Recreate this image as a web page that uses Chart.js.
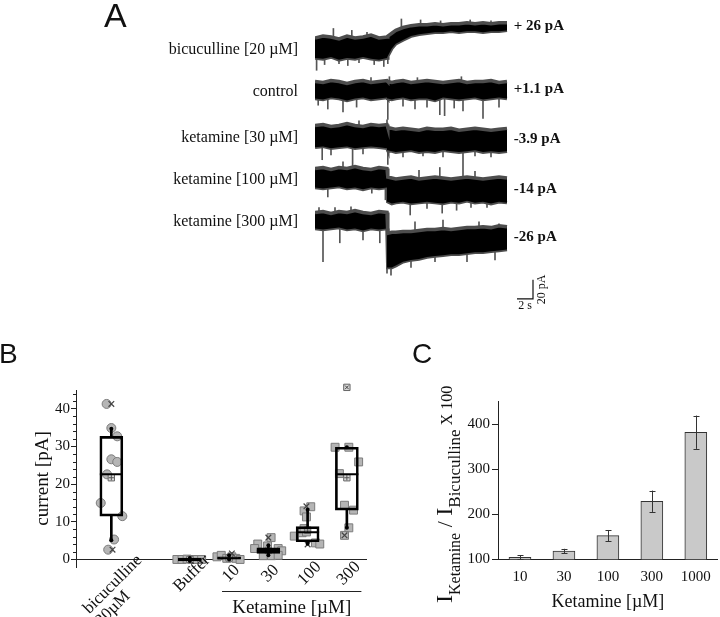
<!DOCTYPE html>
<html>
<head>
<meta charset="utf-8">
<script src="https://cdn.jsdelivr.net/npm/chart.js@4.4.1/dist/chart.umd.min.js"></script>
<style>
  html, body { margin:0; padding:0; background:#ffffff; }
  #wrap { position:relative; width:720px; height:617px; overflow:hidden; background:#fff; }
  canvas { position:absolute; }
</style>
</head>
<body>
<div id="wrap">
  <canvas id="cA" style="left:0;top:0;width:720px;height:330px" width="720" height="330"></canvas>
  <canvas id="cB" style="left:0;top:330px;width:380px;height:287px" width="380" height="287"></canvas>
  <canvas id="cC" style="left:380px;top:330px;width:340px;height:287px" width="340" height="287"></canvas>
</div>
<script>
// ================= DATA =================
// ---- Panel A: current traces (pA relative to each trace's starting level) ----
const TRACE_NAMES = ['bicuculline [20 µM]', 'control', 'ketamine [30 µM]', 'ketamine [100 µM]', 'ketamine [300 µM]'];
const TRACE_AMPLITUDES = ['+ 26 pA', '+1.1 pA', '-3.9 pA', '-14 pA', '-26 pA'];
const TRACE_TIME = [0,1,2,3,4,5,6,7,8,9,9.1,9.6,10.1,11,12,13,14,15,16,17,18,19,20,21,22,23,24]; // s

const BIC_UPPER  = [10,12,11,9,12,10,11,13,10,11,12,15,18,21,23,24,24,25,24,25,25,26,25,26,25,26,26];
const BIC_LOWER  = [-11,-12,-10,-13,-11,-12,-10,-12,-13,-11,-9,-1,4,8,12,14,15,16,16,17,16,17,17,16,17,17,18];
const CTRL_UPPER = [9,8,10,9,7,9,10,8,9,10,9,8,9,10,8,9,10,9,8,9,10,8,9,9,10,8,9];
const CTRL_LOWER = [-9,-10,-8,-9,-11,-9,-8,-10,-9,-8,-9,-10,-9,-8,-10,-9,-9,-11,-8,-9,-10,-9,-8,-10,-9,-8,-9];
const K30_UPPER  = [11,12,10,11,13,11,10,12,11,12,9,8,7,8,7,6,8,7,7,8,6,7,8,7,6,7,8];
const K30_LOWER  = [-12,-11,-13,-12,-11,-13,-12,-11,-12,-13,-15,-16,-17,-16,-15,-17,-16,-17,-15,-16,-17,-16,-15,-17,-16,-17,-16];
const K100_UPPER = [10,11,9,11,10,12,10,9,11,10,1,0,-1,0,1,-1,0,1,0,-1,0,1,0,-1,0,1,0];
const K100_LOWER = [-10,-11,-10,-9,-11,-10,-12,-10,-11,-10,-25,-27,-26,-25,-27,-26,-25,-26,-27,-25,-26,-24,-26,-25,-27,-25,-26];
const K300_UPPER = [8,9,7,9,8,10,8,7,9,8,-14,-13,-13,-12,-12,-11,-10,-10,-9,-10,-9,-8,-8,-7,-8,-6,-7];
const K300_LOWER = [-9,-10,-9,-8,-10,-9,-11,-9,-10,-9,-50,-50,-48,-44,-42,-41,-39,-38,-37,-36,-36,-35,-34,-34,-33,-32,-31];
const TRACE_LATE_LEVEL = [21, 0, -4, -13, -19]; // pA, level at the end of each trace

// single noise spikes: [time s, from pA, to pA]
const BIC_SPIKES  = [[0.2,-5,-24],[1.2,-5,-18],[2.3,5,20],[3.0,-5,-17],[4.1,-5,-19],[4.6,5,18],[5.5,-5,-16],[6.5,5,16],[7.4,-5,-18],[8.6,-5,-20],[9.1,-5,-17],[10.8,20,30],[13.2,20,29],[15.7,20,28],[19.4,20,29],[22,20,28]];
const CTRL_SPIKES = [[0.4,-3,-16],[1.6,-3,-20],[3.5,-3,-23],[5.2,-3,-18],[7.0,3,13],[9.1,-3,-31],[11,-3,-17],[12.5,-3,-20],[14,-3,-18],[15.6,-3,-26],[16.2,-3,-27],[17.4,-3,-19],[18.5,-3,-22],[21,-3,-30],[23,-3,-18],[9.3,3,14],[12.8,3,13],[18.3,3,14]];
const K30_SPIKES  = [[0.9,-5,-25],[2.0,-5,-20],[4.7,-5,-36],[6.0,-5,-19],[9.1,-5,-30],[11,-8,-22],[13.5,-8,-21],[16,-8,-22],[18.5,-8,-42],[20,-8,-21],[22,-8,-22],[5.5,5,16],[9.0,5,17]];
const K100_SPIKES = [[1.6,-5,-20],[3.5,5,17],[7.1,-5,-16],[8.8,-5,-23],[9.1,-5,-24],[11.9,-15,-39],[14,-15,-32],[15.9,-15,-37],[17.7,-15,-34],[19.5,-15,-31],[21.5,-15,-31],[13,-5,8],[15.6,-5,11],[20,-5,7]];
const K300_SPIKES = [[1.0,-5,-44],[3.1,-5,-24],[6.0,-5,-21],[8.1,-5,-24],[9.0,-5,-56],[0.5,5,13],[2.5,5,13],[4.5,5,14],[9.5,-30,-58],[12,-30,-50],[15,-25,-44],[19,-25,-44],[22.5,-20,-42],[12.5,-20,-2],[16,-20,0],[20.5,-15,-2],[23,-15,-4]];

const SCALEBAR_SECONDS = 2;
const SCALEBAR_PA = 20;

// ---- Panel B: box plots of current [pA] ----
const B_LABELS = [['bicuculline', '20µM'], 'Buffer', '10', '30', '100', '300'];
const B_GROUP_POS = [0, 2, 3, 4, 5, 6];
const B_Q1     = [11.5, -0.4, 0.0, 1.6, 4.7, 13.1];
const B_MEDIAN = [22.6,  0.0, 0.3, 2.3, 7.2, 22.6];
const B_Q3     = [32.7,  0.4, 0.7, 3.1, 8.7, 29.8];
const B_WHISK_LO = [5.1, -0.4, 0.0, 1.1, 4.2, 8.4];
const B_WHISK_HI = [34.7, 0.4, 1.1, 3.8, 13.2, 29.8];
const B_MEAN   = [21.7, 0.0, 0.4, 2.4, 7.8, 21.7];
// individual cells: [jitter, value]
const B_PTS_BIC = [[-0.12,41.3],[0,34.9],[0.15,32.7],[0,26.6],[0.15,25.9],[-0.11,22.6],[-0.27,15.0],[0.28,11.5],[0.07,5.3],[-0.08,2.6]];
const B_PTS_BUF = [[-0.33,0],[-0.2,0],[-0.07,0.1],[0.06,0],[0.18,0],[0.3,0]];
const B_PTS_10  = [[-0.31,0.7],[-0.2,1.1],[-0.06,0.3],[0.07,0.7],[0.17,0.3],[0.28,0.0]];
const B_PTS_30  = [[-0.27,4.1],[-0.35,2.9],[-0.02,3.6],[0.25,2.9],[0.34,2.3],[0.17,1.6],[-0.13,1.0],[0.08,1.0],[0.25,1.1],[0.07,5.8]];
const B_PTS_100 = [[-0.09,12.9],[0.08,14.0],[-0.03,11.3],[-0.34,6.2],[-0.14,7.1],[-0.03,7.3],[-0.09,8.2],[0.2,4.4],[0.31,4.1]];
const B_PTS_300 = [[-0.3,29.8],[0.05,29.8],[0.3,25.9],[-0.19,22.8],[-0.06,14.4],[0.17,13.1],[0.05,8.4],[-0.06,6.4]];
// 1% / 99% markers: [group, jitter, value]
const B_XMARKS = [[0,0,41.3],[0,0.03,2.6],[2,0.07,1.6],[3,0,5.8],[4,-0.03,14.1],[4,0,4.0],[5,-0.06,6.4]];
const B_MAXMARK = [[5,0,45.7]];
const B_Y_TICKS = [0, 10, 20, 30, 40];

// ---- Panel C: normalised current ----
const C_LABELS = ['10', '30', '100', '300', '1000'];
const C_MEAN = [104.4, 118.5, 152.6, 228.9, 382.2];
const C_ERR  = [4.8, 4.8, 12.5, 23.7, 37.0];
const C_Y_TICKS = [100, 200, 300, 400];

// ================= STYLE / LAYOUT =================
const SERIF = '"Liberation Serif", "Times New Roman", serif';
const SANS = '"Liberation Sans", Arial, sans-serif';
const INK = '#111111';
const A_OFFSETS = [-50, -94.8, -143.2, -187.4, -231.7]; // vertical stacking of traces (pA units)
const A_SCALEBAR_T0 = 25.25, A_SCALEBAR_Y0 = -314.7;
const B_KET_RANGE = [2.82, 6.37];

Chart.defaults.font.family = SERIF;
Chart.defaults.color = INK;

// ================= PANEL A =================
const TRACES = [
  {up: BIC_UPPER, lo: BIC_LOWER, sp: BIC_SPIKES},
  {up: CTRL_UPPER, lo: CTRL_LOWER, sp: CTRL_SPIKES},
  {up: K30_UPPER, lo: K30_LOWER, sp: K30_SPIKES},
  {up: K100_UPPER, lo: K100_LOWER, sp: K100_SPIKES},
  {up: K300_UPPER, lo: K300_LOWER, sp: K300_SPIKES}
];
const aDatasets = [];
const spikeData = [];
TRACES.forEach((tr, i) => {
  const off = A_OFFSETS[i];
  aDatasets.push({type: 'line', data: TRACE_TIME.map((t, j) => ({x: t, y: off + tr.up[j]})),
    borderColor: '#4d4d4d', backgroundColor: '#000', borderWidth: 3.5, pointRadius: 0, tension: 0, fill: '+1'});
  aDatasets.push({type: 'line', data: TRACE_TIME.map((t, j) => ({x: t, y: off + tr.lo[j]})),
    borderColor: '#4d4d4d', borderWidth: 3.5, pointRadius: 0, tension: 0, fill: false});
  tr.sp.forEach(([t, a, b]) => spikeData.push({x: t, y: [off + a, off + b]}));
});
aDatasets.push({type: 'bar', data: spikeData, backgroundColor: '#555555', borderWidth: 0, barThickness: 1, grouped: false});

const panelAText = {
  id: 'panelAText',
  afterDraw(chart) {
    const {ctx} = chart; const xs = chart.scales.x, ys = chart.scales.y;
    ctx.save();
    ctx.fillStyle = INK;
    ctx.font = `34px ${SANS}`; ctx.textAlign = 'left'; ctx.textBaseline = 'alphabetic';
    ctx.fillText('A', 104, 27);
    ctx.font = `16px ${SERIF}`; ctx.textAlign = 'right'; ctx.textBaseline = 'middle';
    TRACE_NAMES.forEach((n, i) => ctx.fillText(n, xs.getPixelForValue(0) - 17, ys.getPixelForValue(A_OFFSETS[i]) + 2));
    ctx.font = `bold 15px ${SERIF}`; ctx.textAlign = 'left';
    TRACE_AMPLITUDES.forEach((n, i) => ctx.fillText(n, xs.getPixelForValue(24.85), ys.getPixelForValue(A_OFFSETS[i] + TRACE_LATE_LEVEL[i]) - 1));
    const sx0 = xs.getPixelForValue(A_SCALEBAR_T0), sx1 = xs.getPixelForValue(A_SCALEBAR_T0 + SCALEBAR_SECONDS);
    const sy0 = ys.getPixelForValue(A_SCALEBAR_Y0), sy1 = ys.getPixelForValue(A_SCALEBAR_Y0 + SCALEBAR_PA);
    ctx.strokeStyle = INK; ctx.lineWidth = 1.2;
    ctx.beginPath(); ctx.moveTo(sx0, sy0); ctx.lineTo(sx1, sy0); ctx.lineTo(sx1, sy1); ctx.stroke();
    ctx.font = `12px ${SERIF}`; ctx.textAlign = 'center'; ctx.textBaseline = 'top';
    ctx.fillText(SCALEBAR_SECONDS + ' s', (sx0 + sx1) / 2, sy0 + 1);
    ctx.save(); ctx.translate(sx1 + 3, (sy0 + sy1) / 2); ctx.rotate(-Math.PI / 2);
    ctx.textAlign = 'center'; ctx.textBaseline = 'top'; ctx.fillText(SCALEBAR_PA + ' pA', 0, 0); ctx.restore();
    ctx.restore();
  }
};

new Chart(document.getElementById('cA'), {
  type: 'line',
  data: {datasets: aDatasets},
  options: {
    responsive: false, animation: false, events: [], devicePixelRatio: 1,
    layout: {padding: {left: 315, right: 180, top: 0, bottom: 10}},
    plugins: {legend: {display: false}, tooltip: {enabled: false}},
    scales: {
      x: {type: 'linear', display: false, min: 0, max: 28.125, offset: false},
      y: {type: 'linear', display: false, min: -337, max: 0}
    }
  },
  plugins: [panelAText]
});

// ================= PANEL B =================
const bx = (g, dx) => B_GROUP_POS[g] + dx;
const pts = (list, g) => list.map(([dx, v]) => ({x: bx(g, dx), y: v}));
const circlePts = pts(B_PTS_BIC, 0);
const squarePts = [].concat(pts(B_PTS_BUF, 1), pts(B_PTS_10, 2), pts(B_PTS_30, 3), pts(B_PTS_100, 4), pts(B_PTS_300, 5));
const PT_FILL = '#b5b5b5', PT_EDGE = '#7c7c7c';

const bDatasets = [
  {type: 'scatter', data: B_GROUP_POS.map((p, i) => ({x: p, y: B_MEDIAN[i]})), pointStyle: 'line', pointRadius: 11.5, borderColor: '#000', borderWidth: 2},
  {type: 'bar', data: B_GROUP_POS.map((p, i) => ({x: p, y: [B_Q1[i], B_Q3[i]]})), backgroundColor: 'rgba(0,0,0,0)', borderColor: '#000', borderWidth: 2, borderSkipped: false, barThickness: 23, grouped: false},
  {type: 'bar', data: B_GROUP_POS.flatMap((p, i) => [{x: p, y: [B_Q3[i], B_WHISK_HI[i]]}, {x: p, y: [B_WHISK_LO[i], B_Q1[i]]}]), backgroundColor: '#000', borderWidth: 0, barThickness: 2, grouped: false},
  {type: 'scatter', data: B_GROUP_POS.flatMap((p, i) => [{x: p, y: B_WHISK_LO[i]}, {x: p, y: B_WHISK_HI[i]}]), pointRadius: 2, backgroundColor: '#000', borderColor: '#000', borderWidth: 0},
  {type: 'scatter', data: B_XMARKS.map(([g, dx, v]) => ({x: bx(g, dx), y: v})), pointStyle: 'crossRot', pointRadius: 4, borderColor: '#444', borderWidth: 1.2},
  {type: 'scatter', data: B_GROUP_POS.map((p, i) => ({x: p, y: B_MEAN[i]})), pointStyle: 'cross', pointRadius: 2.6, borderColor: '#555', borderWidth: 1},
  {type: 'scatter', data: B_MAXMARK.map(([g, dx, v]) => ({x: bx(g, dx), y: v})), pointStyle: 'crossRot', pointRadius: 2.6, borderColor: '#444', borderWidth: 1, clip: false},
  {type: 'scatter', data: B_GROUP_POS.map((p, i) => ({x: p, y: B_MEAN[i]})).concat(B_MAXMARK.map(([g, dx, v]) => ({x: bx(g, dx), y: v}))), pointStyle: 'rect', pointRadius: 4.5, backgroundColor: '#d8d8d8', borderColor: '#666', borderWidth: 1, clip: false},
  {type: 'scatter', data: circlePts, pointStyle: 'circle', pointRadius: 4.5, backgroundColor: PT_FILL, borderColor: PT_EDGE, borderWidth: 1},
  {type: 'scatter', data: squarePts, pointStyle: 'rect', pointRadius: 5.6, backgroundColor: PT_FILL, borderColor: PT_EDGE, borderWidth: 1}
];

const panelBText = {
  id: 'panelBText',
  afterDraw(chart) {
    const {ctx} = chart; const xs = chart.scales.x, ys = chart.scales.y;
    const y0 = ys.getPixelForValue(0);
    const axX = chart.chartArea.left;
    ctx.save();
    // minor ticks
    ctx.strokeStyle = '#222'; ctx.lineWidth = 1;
    for (let v = 2; v <= 44; v += 2) {
      if (v % 10 === 0) continue;
      const py = Math.round(ys.getPixelForValue(v)) + 0.5;
      ctx.beginPath(); ctx.moveTo(axX - 3, py); ctx.lineTo(axX, py); ctx.stroke();
    }
    ctx.fillStyle = INK;
    ctx.font = `28px ${SANS}`; ctx.textAlign = 'left'; ctx.textBaseline = 'alphabetic';
    ctx.fillText('B', -1, 33);
    ctx.textAlign = 'center'; ctx.textBaseline = 'middle';
    B_LABELS.forEach((lab, i) => {
      const px = xs.getPixelForValue(B_GROUP_POS[i]);
      ctx.save();
      ctx.font = `17px ${SERIF}`;
      if (Array.isArray(lab)) {
        ctx.translate(px + 1.5, y0 + 25); ctx.rotate(-Math.PI / 4);
        ctx.fillText(lab[0], 0, 0);
        ctx.fillText(lab[1], -17, 17);
      } else {
        ctx.translate(px + 2, y0 + 14); ctx.rotate(-Math.PI / 4);
        ctx.fillText(lab, 0, 0);
      }
      ctx.restore();
    });
    const k0 = xs.getPixelForValue(B_KET_RANGE[0]), k1 = xs.getPixelForValue(B_KET_RANGE[1]);
    ctx.strokeStyle = '#222'; ctx.lineWidth = 1;
    ctx.beginPath(); ctx.moveTo(k0, Math.round(y0 + 32) + 0.5); ctx.lineTo(k1, Math.round(y0 + 32) + 0.5); ctx.stroke();
    ctx.font = `19px ${SERIF}`; ctx.textAlign = 'center'; ctx.textBaseline = 'middle';
    ctx.fillText('Ketamine [µM]', (k0 + k1) / 2, y0 + 49);
    ctx.restore();
  }
};

new Chart(document.getElementById('cB'), {
  type: 'scatter',
  data: {datasets: bDatasets},
  options: {
    responsive: false, animation: false, events: [], devicePixelRatio: 1,
    layout: {padding: {left: 0, right: 12, top: 60, bottom: 50}},
    plugins: {legend: {display: false}, tooltip: {enabled: false}},
    scales: {
      x: {type: 'linear', min: -0.9, max: 6.5, offset: false, position: {y: 0},
          ticks: {display: false}, grid: {display: false, offset: false, drawTicks: false},
          border: {display: true, color: '#222', width: 1}},
      y: {type: 'linear', min: -2, max: 45,
          afterBuildTicks(s) { s.ticks = B_Y_TICKS.map(v => ({value: v})); },
          ticks: {font: {family: SERIF, size: 15}, color: INK, padding: 1},
          grid: {display: true, drawOnChartArea: false, drawTicks: true, tickLength: 5, color: '#222'},
          border: {display: true, color: '#222', width: 1},
          title: {display: true, text: 'current [pA]', font: {family: SERIF, size: 19}, color: INK, padding: {top: 32, bottom: 0}},
          afterFit(s) { s.width = 76; }}
    }
  },
  plugins: [panelBText]
});

// ================= PANEL C =================
const panelCText = {
  id: 'panelCText',
  afterDatasetsDraw(chart) {
    const {ctx} = chart; const xs = chart.scales.x, ys = chart.scales.y;
    ctx.save();
    ctx.strokeStyle = '#333'; ctx.lineWidth = 1;
    C_MEAN.forEach((m, i) => {
      const px = Math.round(xs.getPixelForValue(i)) + 0.5;
      const yt = ys.getPixelForValue(m + C_ERR[i]), yb = ys.getPixelForValue(m - C_ERR[i]);
      ctx.beginPath();
      ctx.moveTo(px, yt); ctx.lineTo(px, yb);
      ctx.moveTo(px - 3, Math.round(yt) + 0.5); ctx.lineTo(px + 3, Math.round(yt) + 0.5);
      ctx.moveTo(px - 3, Math.round(yb) + 0.5); ctx.lineTo(px + 3, Math.round(yb) + 0.5);
      ctx.stroke();
    });
    ctx.restore();
  },
  afterDraw(chart) {
    const {ctx} = chart;
    ctx.save();
    ctx.fillStyle = INK;
    ctx.font = `28px ${SANS}`; ctx.textAlign = 'left'; ctx.textBaseline = 'alphabetic';
    ctx.fillText('C', 32, 33);
    // y title with subscripts
    ctx.translate(72, 273); ctx.rotate(-Math.PI / 2);
    const parts = [
      {t: 'I', s: 24, dy: 0}, {t: 'Ketamine', s: 16, dy: 8}, {t: ' / ', s: 22, dy: 0},
      {t: 'I', s: 24, dy: 0}, {t: 'Bicuculline', s: 17, dy: 8}, {t: ' X 100', s: 16, dy: 0}
    ];
    let cx = 0;
    ctx.textAlign = 'left'; ctx.textBaseline = 'alphabetic';
    parts.forEach(p => {
      ctx.font = `${p.s}px ${SERIF}`;
      ctx.fillText(p.t, cx, p.dy);
      cx += ctx.measureText(p.t).width;
    });
    ctx.restore();
  }
};

new Chart(document.getElementById('cC'), {
  type: 'bar',
  data: {labels: C_LABELS, datasets: [{data: C_MEAN, backgroundColor: '#c9c9c9', borderColor: '#333', borderWidth: 1, borderSkipped: false, barThickness: 22}]},
  options: {
    responsive: false, animation: false, events: [], devicePixelRatio: 1,
    layout: {padding: {left: 0, right: 2, top: 71.7, bottom: 0}},
    plugins: {legend: {display: false}, tooltip: {enabled: false}},
    scales: {
      x: {type: 'category', offset: true,
          grid: {display: false, drawTicks: false},
          border: {display: true, color: '#222', width: 1},
          ticks: {font: {family: SERIF, size: 15}, color: INK, padding: 9},
          title: {display: true, text: 'Ketamine [µM]', font: {family: SERIF, size: 18}, color: INK, padding: {top: 0, bottom: 4}},
          afterFit(s) { s.height = 57.7; }},
      y: {type: 'linear', min: 100, max: 450,
          afterBuildTicks(s) { s.ticks = C_Y_TICKS.map(v => ({value: v})); },
          ticks: {font: {family: SERIF, size: 15}, color: INK, padding: 2},
          grid: {display: true, drawOnChartArea: false, drawTicks: true, tickLength: 6, color: '#222'},
          border: {display: true, color: '#222', width: 1},
          afterFit(s) { s.width = 118; }}
    }
  },
  plugins: [panelCText]
});
</script>
</body>
</html>
